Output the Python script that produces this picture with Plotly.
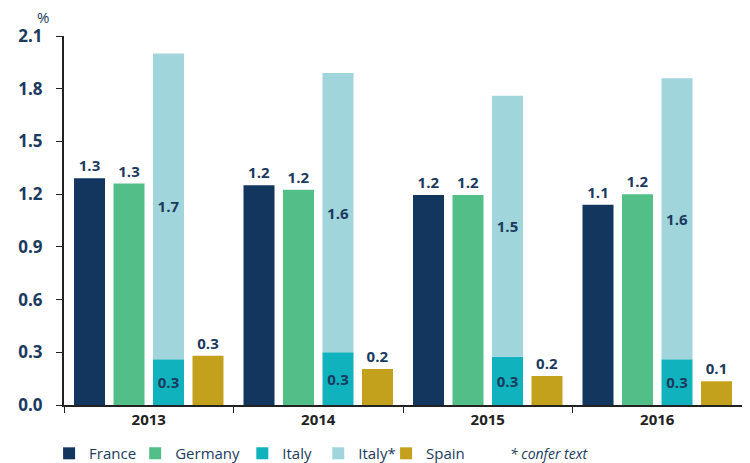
import plotly.graph_objects as go

years = ["2013", "2014", "2015", "2016"]
france = [1.29, 1.25, 1.195, 1.14]
germany = [1.26, 1.225, 1.195, 1.20]
italy = [0.26, 0.30, 0.275, 0.26]
italy_star = [1.74, 1.59, 1.485, 1.60]
spain = [0.28, 0.205, 0.165, 0.135]
y_ticks = [0.0, 0.3, 0.6, 0.9, 1.2, 1.5, 1.8, 2.1]

navy = "#1b3a5e"
lab_font = dict(family="Open Sans", size=15, color=navy, weight="bold")

def lbl(vals):
    return [f"{v:.1f}" for v in vals]

fig = go.Figure()
fig.add_bar(name="France", x=years, y=france, marker_color="#13365f",
            text=lbl(france), textposition="outside", offsetgroup="a", legend="legend")
fig.add_bar(name="Germany", x=years, y=germany, marker_color="#52be88",
            text=lbl(germany), textposition="outside", offsetgroup="b", legend="legend2")
fig.add_bar(name="Italy", x=years, y=italy, marker_color="#10b3bd",
            text=lbl(italy), textposition="inside", insidetextanchor="middle",
            offsetgroup="c", legend="legend3")
fig.add_bar(name="Italy*", x=years, y=italy_star, base=italy, marker_color="#a0d5dc",
            text=lbl(italy_star), textposition="inside", insidetextanchor="middle",
            offsetgroup="c", legend="legend4")
fig.add_bar(name="Spain", x=years, y=spain, marker_color="#c3a11d",
            text=lbl(spain), textposition="outside", offsetgroup="d", legend="legend5")

fig.update_traces(textfont=lab_font, insidetextfont=lab_font, outsidetextfont=lab_font,
                  textangle=0, cliponaxis=False, marker_line_width=0, showlegend=True)

def leg(x):
    return dict(orientation="h", x=x, xanchor="left", yref="container", y=0.057,
                yanchor="top", font=dict(size=15, color=navy), itemwidth=30,
                bgcolor="rgba(0,0,0,0)", visible=True)

fig.update_layout(
    width=742, height=455,
    margin=dict(l=56, r=8, t=28, b=58, autoexpand=False),
    showlegend=True,
    barmode="group", bargap=0.068, bargroupgap=0.215,
    plot_bgcolor="white", paper_bgcolor="white",
    font=dict(family="Open Sans", color=navy),
    legend=leg(-0.022), legend2=leg(0.105), legend3=leg(0.263),
    legend4=leg(0.375), legend5=leg(0.475),
    xaxis=dict(showline=True, linecolor="#222", linewidth=2, ticks="outside",
               tickson="boundaries", ticklen=6, tickcolor="#222", automargin=False,
               tickfont=dict(size=15, color="#222", weight="bold")),
    yaxis=dict(range=[0, 2.1], tickvals=y_ticks, ticktext=[f"{v:.1f}" for v in y_ticks],
               showline=True, linecolor="#222", linewidth=2, ticks="outside",
               ticklen=6, tickcolor="#222", showgrid=False, zeroline=False,
               automargin=False,
               tickfont=dict(size=17, color=navy, weight="bold"),
               ticklabelstandoff=10),
    annotations=[
        dict(text="%", xref="paper", yref="paper", x=-0.031, y=1.0, yshift=19,
             xanchor="center", yanchor="middle",
             showarrow=False, font=dict(size=15, color=navy)),
        dict(text="<i>* confer text</i>", xref="paper", yref="paper", x=0.655,
             y=-0.132, xanchor="left", yanchor="middle", showarrow=False,
             font=dict(size=14, color=navy)),
    ],
)

fig.write_html("out.html")
